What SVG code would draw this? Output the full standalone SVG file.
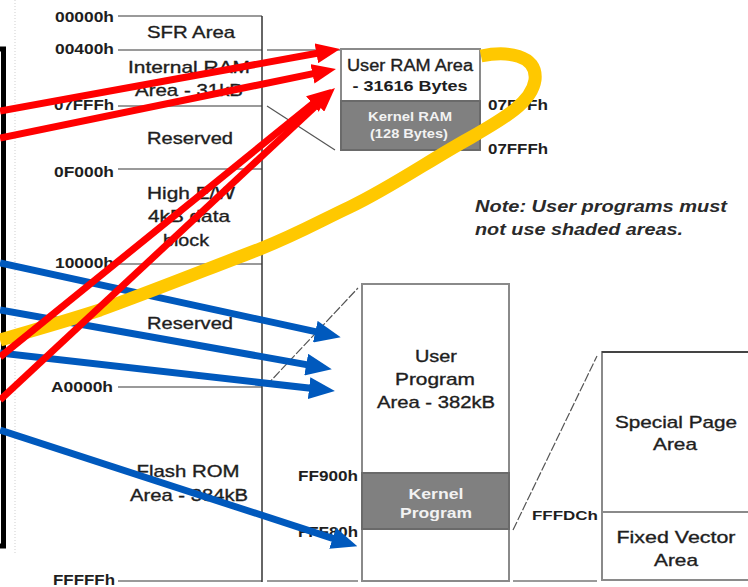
<svg xmlns="http://www.w3.org/2000/svg" width="748" height="587" viewBox="0 0 748 587">
  <style>
    text { font-family: "Liberation Sans", Arial, sans-serif; }
    .reg { font-size: 17px; fill: #1e1e1e; stroke: #1e1e1e; stroke-width: 0.35; text-anchor: middle; }
    .addr { font-size: 14px; font-weight: bold; fill: #1e1e1e; text-anchor: end; }
    .addr-l { font-size: 14px; font-weight: bold; fill: #1e1e1e; text-anchor: start; }
    .inv { font-size: 13px; font-weight: bold; fill: #f2f2f2; text-anchor: middle; }
    .note { font-size: 16px; font-weight: bold; font-style: italic; fill: #2a2a2a; }
    .tick { stroke: #9a9a9a; stroke-width: 2; fill: none; }
    .axis { stroke: #333; stroke-width: 1.5; fill: none; }
    .zoom { stroke: #555; stroke-width: 1.2; fill: none; }
    .box { fill: #fff; stroke: #8a8a8a; stroke-width: 2; }
    .shade { fill: #808080; stroke: #6a6a6a; stroke-width: 2; }
    .red { stroke: #ff0000; stroke-width: 7; fill: none; marker-end: url(#head-red); }
    .blue { stroke: #0059bd; stroke-width: 7; fill: none; marker-end: url(#head-blue); }
    .yellow { stroke: #ffc800; stroke-width: 13; fill: none; stroke-linecap: butt; }
  </style>
  <defs>
    <marker id="head-red" markerUnits="userSpaceOnUse" markerWidth="24" markerHeight="20" viewBox="0 0 24 20" refX="12" refY="10" orient="auto">
      <path d="M0,0 L24,10 L0,20 z" fill="#ff0000"/>
    </marker>
    <marker id="head-blue" markerUnits="userSpaceOnUse" markerWidth="26" markerHeight="22" viewBox="0 0 26 22" refX="13" refY="11" orient="auto">
      <path d="M0,0 L26,11 L0,22 z" fill="#0059bd"/>
    </marker>
  </defs>

  <rect width="748" height="587" fill="#fff"/>

  <!-- frame edge on the far left -->
  <g id="side-frame">
    <rect x="-10" y="49" width="13.5" height="497" fill="#fff" stroke="#000" stroke-width="5"/>
    <line x1="15" y1="0" x2="15" y2="555" stroke="#cfcfcf" stroke-width="1" stroke-dasharray="1 2"/>
  </g>

  <!-- full address map column -->
  <g id="address-map">
    <path class="tick" d="M118,16H262 M118,50H262 M118,106H262 M118,169H262 M118,264H262 M118,387H262 M118,581H262"/>
    <line class="axis" x1="262" y1="16" x2="262" y2="582"/>
    <text class="addr" x="114" y="22" textLength="59" lengthAdjust="spacingAndGlyphs">00000h</text>
    <text class="addr" x="114" y="54" textLength="59" lengthAdjust="spacingAndGlyphs">00400h</text>
    <text class="addr" x="114" y="110" textLength="60" lengthAdjust="spacingAndGlyphs">07FFFh</text>
    <text class="addr" x="114" y="177" textLength="60" lengthAdjust="spacingAndGlyphs">0F000h</text>
    <text class="addr" x="114" y="268" textLength="59" lengthAdjust="spacingAndGlyphs">10000h</text>
    <text class="addr" x="113" y="392" textLength="62" lengthAdjust="spacingAndGlyphs">A0000h</text>
    <text class="addr" x="115" y="585" textLength="62" lengthAdjust="spacingAndGlyphs">FFFFFh</text>
  </g>

  <g id="sfr-area">
    <text class="reg" x="191" y="38" textLength="88" lengthAdjust="spacingAndGlyphs">SFR Area</text>
  </g>
  <g id="internal-ram">
    <text class="reg" x="189" y="73" textLength="122" lengthAdjust="spacingAndGlyphs">Internal RAM</text>
    <text class="reg" x="189" y="96" textLength="108" lengthAdjust="spacingAndGlyphs">Area - 31kB</text>
  </g>
  <g id="reserved-low">
    <text class="reg" x="190" y="144" textLength="86" lengthAdjust="spacingAndGlyphs">Reserved</text>
  </g>
  <g id="data-block">
    <text class="reg" x="191" y="199" textLength="88" lengthAdjust="spacingAndGlyphs">High E/W</text>
    <text class="reg" x="189" y="222" textLength="82" lengthAdjust="spacingAndGlyphs">4kB data</text>
    <text class="reg" x="186" y="246" textLength="46" lengthAdjust="spacingAndGlyphs">block</text>
  </g>
  <g id="reserved-high">
    <text class="reg" x="190" y="329" textLength="86" lengthAdjust="spacingAndGlyphs">Reserved</text>
  </g>
  <g id="flash-rom">
    <text class="reg" x="188" y="477" textLength="103" lengthAdjust="spacingAndGlyphs">Flash ROM</text>
    <text class="reg" x="189" y="501" textLength="118" lengthAdjust="spacingAndGlyphs">Area - 384kB</text>
  </g>

  <!-- RAM detail -->
  <g id="user-ram">
    <rect class="box" x="341" y="49" width="139" height="52"/>
    <text class="reg" x="410" y="71" style="font-size:16px" textLength="126" lengthAdjust="spacingAndGlyphs">User RAM Area</text>
    <text class="reg" x="410" y="91" style="font-size:14px;font-weight:bold;stroke-width:0" textLength="115" lengthAdjust="spacingAndGlyphs">- 31616 Bytes</text>
  </g>
  <g id="kernel-ram">
    <rect class="shade" x="341" y="101" width="139" height="49"/>
    <text class="inv" x="410" y="121" textLength="84" lengthAdjust="spacingAndGlyphs">Kernel RAM</text>
    <text class="inv" x="409" y="138" textLength="78" lengthAdjust="spacingAndGlyphs">(128 Bytes)</text>
  </g>
  <g id="ram-addresses">
    <text class="addr-l" x="488" y="110" textLength="60" lengthAdjust="spacingAndGlyphs">07F7Fh</text>
    <text class="addr-l" x="488" y="154" textLength="60" lengthAdjust="spacingAndGlyphs">07FFFh</text>
  </g>

  <g id="note">
    <text class="note" x="475" y="212" textLength="252" lengthAdjust="spacingAndGlyphs">Note: User programs must</text>
    <text class="note" x="475" y="235" textLength="208" lengthAdjust="spacingAndGlyphs">not use shaded areas.</text>
  </g>

  <!-- program detail -->
  <g id="user-program">
    <rect class="box" x="362" y="284" width="147" height="297"/>
    <text class="reg" x="436" y="362" textLength="42" lengthAdjust="spacingAndGlyphs">User</text>
    <text class="reg" x="435" y="385" textLength="80" lengthAdjust="spacingAndGlyphs">Program</text>
    <text class="reg" x="436" y="408" textLength="118" lengthAdjust="spacingAndGlyphs">Area - 382kB</text>
  </g>
  <g id="kernel-program">
    <rect class="shade" x="362" y="473" width="147" height="56"/>
    <text class="inv" x="436" y="499" style="font-size:14px" textLength="55" lengthAdjust="spacingAndGlyphs">Kernel</text>
    <text class="inv" x="436" y="518" style="font-size:14px" textLength="72" lengthAdjust="spacingAndGlyphs">Program</text>
    <text class="addr" x="358" y="481" textLength="60" lengthAdjust="spacingAndGlyphs">FF900h</text>
    <text class="addr" x="358" y="537" textLength="60" lengthAdjust="spacingAndGlyphs">FFF80h</text>
  </g>

  <!-- top page detail -->
  <g id="special-page">
    <rect class="box" x="602" y="352" width="152" height="160"/>
    <line x1="602" y1="352" x2="748" y2="352" stroke="#444" stroke-width="2"/>
    <text class="reg" x="676" y="428" textLength="122" lengthAdjust="spacingAndGlyphs">Special Page</text>
    <text class="reg" x="675" y="450" textLength="44" lengthAdjust="spacingAndGlyphs">Area</text>
  </g>
  <g id="fixed-vector">
    <rect class="box" x="602" y="512" width="152" height="68"/>
    <text class="reg" x="676" y="543" textLength="119" lengthAdjust="spacingAndGlyphs">Fixed Vector</text>
    <text class="reg" x="676" y="566" textLength="44" lengthAdjust="spacingAndGlyphs">Area</text>
    <text class="addr" x="598" y="520" style="font-size:13px" textLength="66" lengthAdjust="spacingAndGlyphs">FFFDCh</text>
  </g>

  <g id="connectors">
    <!-- expansion guides -->
    <path class="tick" d="M267,50H340 M267,581H358 M513,581H597"/>
    <line class="zoom" x1="267" y1="106" x2="335" y2="150"/>
    <line class="zoom" x1="266" y1="386" x2="358" y2="288" stroke-dasharray="9 2"/>
    <line class="zoom" x1="513" y1="530" x2="597" y2="356" stroke-dasharray="9 2"/>

    <!-- blue arrows into the program area -->
    <line class="blue" x1="0" y1="263" x2="328" y2="334.4"/>
    <line class="blue" x1="0" y1="310" x2="319" y2="366.9"/>
    <line class="blue" x1="0" y1="353" x2="322" y2="389.6"/>
    <line class="blue" x1="0" y1="430" x2="345" y2="542.3"/>

    <!-- yellow loop -->
    <path class="yellow" d="M481,56 C506,51 538,54 535,80 C532,102 505,118 470,138 C430,160 390,188 350,207 C320,221 300,233 260,249 C210,268 150,292 100,310 C60,323 30,331 0,340"/>

    <!-- red arrows into the user RAM area -->
    <line class="red" x1="0" y1="111" x2="328.2" y2="51.2"/>
    <line class="red" x1="0" y1="138" x2="324.2" y2="71.4"/>
    <line class="red" x1="0" y1="357" x2="321.7" y2="96.5"/>
    <line class="red" x1="0" y1="400" x2="326.2" y2="96.2"/>
  </g>
</svg>
